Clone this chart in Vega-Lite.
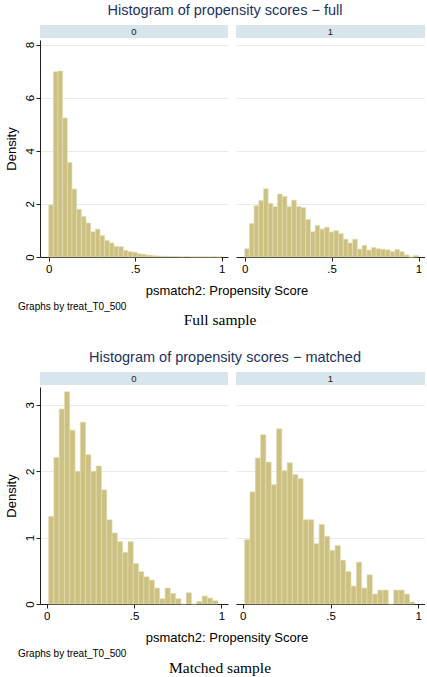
{
  "$schema": "https://vega.github.io/schema/vega-lite/v6.json",
  "padding": {"left": 5, "top": 2, "right": 0, "bottom": 0},
  "autosize": {"type": "pad"},
  "background": "white",
  "config": {
    "font": "Liberation Sans",
    "view": {"stroke": null},
    "title": {"fontWeight": "normal", "color": "#000", "anchor": "middle"},
    "axis": {
      "domainColor": "#222",
      "tickColor": "#222",
      "labelColor": "#000",
      "titleColor": "#000",
      "gridColor": "#e4ecf0",
      "labelFont": "Liberation Sans",
      "titleFont": "Liberation Sans",
      "titleFontWeight": "normal"
    }
  },
  "datasets": {
    "full0": [
      {"bin_start": 0.000, "bin_end": 0.027, "density": 1.96},
      {"bin_start": 0.027, "bin_end": 0.054, "density": 6.97},
      {"bin_start": 0.054, "bin_end": 0.081, "density": 7.00},
      {"bin_start": 0.081, "bin_end": 0.108, "density": 5.23},
      {"bin_start": 0.108, "bin_end": 0.135, "density": 3.56},
      {"bin_start": 0.135, "bin_end": 0.162, "density": 2.56},
      {"bin_start": 0.162, "bin_end": 0.189, "density": 1.80},
      {"bin_start": 0.189, "bin_end": 0.216, "density": 1.53},
      {"bin_start": 0.216, "bin_end": 0.243, "density": 1.28},
      {"bin_start": 0.243, "bin_end": 0.270, "density": 0.95},
      {"bin_start": 0.270, "bin_end": 0.297, "density": 1.05},
      {"bin_start": 0.297, "bin_end": 0.324, "density": 0.81},
      {"bin_start": 0.324, "bin_end": 0.351, "density": 0.62},
      {"bin_start": 0.351, "bin_end": 0.378, "density": 0.53},
      {"bin_start": 0.378, "bin_end": 0.405, "density": 0.40},
      {"bin_start": 0.405, "bin_end": 0.432, "density": 0.39},
      {"bin_start": 0.432, "bin_end": 0.459, "density": 0.25},
      {"bin_start": 0.459, "bin_end": 0.486, "density": 0.20},
      {"bin_start": 0.486, "bin_end": 0.513, "density": 0.18},
      {"bin_start": 0.513, "bin_end": 0.540, "density": 0.12},
      {"bin_start": 0.540, "bin_end": 0.567, "density": 0.10},
      {"bin_start": 0.567, "bin_end": 0.594, "density": 0.07},
      {"bin_start": 0.594, "bin_end": 0.621, "density": 0.05},
      {"bin_start": 0.621, "bin_end": 0.648, "density": 0.04},
      {"bin_start": 0.648, "bin_end": 0.675, "density": 0.03},
      {"bin_start": 0.675, "bin_end": 0.702, "density": 0.03},
      {"bin_start": 0.702, "bin_end": 0.729, "density": 0.02},
      {"bin_start": 0.729, "bin_end": 0.756, "density": 0.02},
      {"bin_start": 0.756, "bin_end": 0.783, "density": 0.01},
      {"bin_start": 0.783, "bin_end": 0.810, "density": 0.02},
      {"bin_start": 0.810, "bin_end": 0.837, "density": 0.01},
      {"bin_start": 0.837, "bin_end": 0.864, "density": 0.01},
      {"bin_start": 0.864, "bin_end": 0.891, "density": 0.01},
      {"bin_start": 0.891, "bin_end": 0.918, "density": 0.01},
      {"bin_start": 0.918, "bin_end": 0.945, "density": 0.005},
      {"bin_start": 0.945, "bin_end": 0.972, "density": 0.01},
      {"bin_start": 0.972, "bin_end": 0.999, "density": 0.005}
    ],
    "full1": [
      {"bin_start": 0.000, "bin_end": 0.027, "density": 0.31},
      {"bin_start": 0.027, "bin_end": 0.054, "density": 1.26},
      {"bin_start": 0.054, "bin_end": 0.081, "density": 1.93},
      {"bin_start": 0.081, "bin_end": 0.108, "density": 2.13},
      {"bin_start": 0.108, "bin_end": 0.135, "density": 2.57},
      {"bin_start": 0.135, "bin_end": 0.162, "density": 2.02},
      {"bin_start": 0.162, "bin_end": 0.189, "density": 1.90},
      {"bin_start": 0.189, "bin_end": 0.216, "density": 2.37},
      {"bin_start": 0.216, "bin_end": 0.243, "density": 2.28},
      {"bin_start": 0.243, "bin_end": 0.270, "density": 1.90},
      {"bin_start": 0.270, "bin_end": 0.297, "density": 2.14},
      {"bin_start": 0.297, "bin_end": 0.324, "density": 1.90},
      {"bin_start": 0.324, "bin_end": 0.351, "density": 1.86},
      {"bin_start": 0.351, "bin_end": 0.378, "density": 1.41},
      {"bin_start": 0.378, "bin_end": 0.405, "density": 0.95},
      {"bin_start": 0.405, "bin_end": 0.432, "density": 1.19},
      {"bin_start": 0.432, "bin_end": 0.459, "density": 1.05},
      {"bin_start": 0.459, "bin_end": 0.486, "density": 1.12},
      {"bin_start": 0.486, "bin_end": 0.513, "density": 0.94},
      {"bin_start": 0.513, "bin_end": 0.540, "density": 0.99},
      {"bin_start": 0.540, "bin_end": 0.567, "density": 0.88},
      {"bin_start": 0.567, "bin_end": 0.594, "density": 0.67},
      {"bin_start": 0.594, "bin_end": 0.621, "density": 0.53},
      {"bin_start": 0.621, "bin_end": 0.648, "density": 0.67},
      {"bin_start": 0.648, "bin_end": 0.675, "density": 0.30},
      {"bin_start": 0.675, "bin_end": 0.702, "density": 0.44},
      {"bin_start": 0.702, "bin_end": 0.729, "density": 0.26},
      {"bin_start": 0.729, "bin_end": 0.756, "density": 0.36},
      {"bin_start": 0.756, "bin_end": 0.783, "density": 0.31},
      {"bin_start": 0.783, "bin_end": 0.810, "density": 0.29},
      {"bin_start": 0.810, "bin_end": 0.837, "density": 0.27},
      {"bin_start": 0.837, "bin_end": 0.864, "density": 0.21},
      {"bin_start": 0.864, "bin_end": 0.891, "density": 0.28},
      {"bin_start": 0.891, "bin_end": 0.918, "density": 0.20},
      {"bin_start": 0.918, "bin_end": 0.945, "density": 0.08},
      {"bin_start": 0.945, "bin_end": 0.972, "density": 0.0},
      {"bin_start": 0.972, "bin_end": 0.999, "density": 0.06}
    ],
    "matched0": [
      {"bin_start": 0.0110, "bin_end": 0.0413, "density": 1.32},
      {"bin_start": 0.0413, "bin_end": 0.0716, "density": 2.21},
      {"bin_start": 0.0716, "bin_end": 0.1019, "density": 2.94},
      {"bin_start": 0.1019, "bin_end": 0.1322, "density": 3.20},
      {"bin_start": 0.1322, "bin_end": 0.1625, "density": 2.62},
      {"bin_start": 0.1625, "bin_end": 0.1928, "density": 2.00},
      {"bin_start": 0.1928, "bin_end": 0.2231, "density": 2.74},
      {"bin_start": 0.2231, "bin_end": 0.2534, "density": 2.25},
      {"bin_start": 0.2534, "bin_end": 0.2837, "density": 2.00},
      {"bin_start": 0.2837, "bin_end": 0.3140, "density": 2.08},
      {"bin_start": 0.3140, "bin_end": 0.3443, "density": 1.72},
      {"bin_start": 0.3443, "bin_end": 0.3746, "density": 1.27},
      {"bin_start": 0.3746, "bin_end": 0.4049, "density": 1.07},
      {"bin_start": 0.4049, "bin_end": 0.4352, "density": 0.94},
      {"bin_start": 0.4352, "bin_end": 0.4655, "density": 0.78},
      {"bin_start": 0.4655, "bin_end": 0.4958, "density": 0.94},
      {"bin_start": 0.4958, "bin_end": 0.5261, "density": 0.61},
      {"bin_start": 0.5261, "bin_end": 0.5564, "density": 0.49},
      {"bin_start": 0.5564, "bin_end": 0.5867, "density": 0.41},
      {"bin_start": 0.5867, "bin_end": 0.6170, "density": 0.36},
      {"bin_start": 0.6170, "bin_end": 0.6473, "density": 0.24},
      {"bin_start": 0.6473, "bin_end": 0.6776, "density": 0.08},
      {"bin_start": 0.6776, "bin_end": 0.7079, "density": 0.24},
      {"bin_start": 0.7079, "bin_end": 0.7382, "density": 0.16},
      {"bin_start": 0.7382, "bin_end": 0.7685, "density": 0.08},
      {"bin_start": 0.7685, "bin_end": 0.7988, "density": 0.0},
      {"bin_start": 0.7988, "bin_end": 0.8291, "density": 0.17},
      {"bin_start": 0.8291, "bin_end": 0.8594, "density": 0.0},
      {"bin_start": 0.8594, "bin_end": 0.8897, "density": 0.04},
      {"bin_start": 0.8897, "bin_end": 0.9200, "density": 0.12},
      {"bin_start": 0.9200, "bin_end": 0.9503, "density": 0.09},
      {"bin_start": 0.9503, "bin_end": 0.9806, "density": 0.05}
    ],
    "matched1": [
      {"bin_start": 0.0110, "bin_end": 0.0413, "density": 0.97},
      {"bin_start": 0.0413, "bin_end": 0.0716, "density": 1.69},
      {"bin_start": 0.0716, "bin_end": 0.1019, "density": 2.20},
      {"bin_start": 0.1019, "bin_end": 0.1322, "density": 2.55},
      {"bin_start": 0.1322, "bin_end": 0.1625, "density": 2.14},
      {"bin_start": 0.1625, "bin_end": 0.1928, "density": 1.80},
      {"bin_start": 0.1928, "bin_end": 0.2231, "density": 2.64},
      {"bin_start": 0.2231, "bin_end": 0.2534, "density": 2.01},
      {"bin_start": 0.2534, "bin_end": 0.2837, "density": 2.13},
      {"bin_start": 0.2837, "bin_end": 0.3140, "density": 1.95},
      {"bin_start": 0.3140, "bin_end": 0.3443, "density": 1.89},
      {"bin_start": 0.3443, "bin_end": 0.3746, "density": 1.27},
      {"bin_start": 0.3746, "bin_end": 0.4049, "density": 1.27},
      {"bin_start": 0.4049, "bin_end": 0.4352, "density": 0.91},
      {"bin_start": 0.4352, "bin_end": 0.4655, "density": 1.20},
      {"bin_start": 0.4655, "bin_end": 0.4958, "density": 1.02},
      {"bin_start": 0.4958, "bin_end": 0.5261, "density": 0.81},
      {"bin_start": 0.5261, "bin_end": 0.5564, "density": 0.88},
      {"bin_start": 0.5564, "bin_end": 0.5867, "density": 0.66},
      {"bin_start": 0.5867, "bin_end": 0.6170, "density": 0.49},
      {"bin_start": 0.6170, "bin_end": 0.6473, "density": 0.27},
      {"bin_start": 0.6473, "bin_end": 0.6776, "density": 0.63},
      {"bin_start": 0.6776, "bin_end": 0.7079, "density": 0.24},
      {"bin_start": 0.7079, "bin_end": 0.7382, "density": 0.44},
      {"bin_start": 0.7382, "bin_end": 0.7685, "density": 0.15},
      {"bin_start": 0.7685, "bin_end": 0.7988, "density": 0.21},
      {"bin_start": 0.7988, "bin_end": 0.8291, "density": 0.21},
      {"bin_start": 0.8291, "bin_end": 0.8594, "density": 0.0},
      {"bin_start": 0.8594, "bin_end": 0.8897, "density": 0.21},
      {"bin_start": 0.8897, "bin_end": 0.9200, "density": 0.21},
      {"bin_start": 0.9200, "bin_end": 0.9503, "density": 0.15},
      {"bin_start": 0.9503, "bin_end": 0.9806, "density": 0.03}
    ],
    "strip0": [{"treat": "0"}],
    "strip1": [{"treat": "1"}]
  },
  "spacing": 21,
  "vconcat": [
    {
      "title": {"text": "Full sample", "orient": "bottom", "font": "Liberation Serif", "fontSize": 15.5, "offset": 1, "anchor": "middle", "dx": 5},
      "vconcat": [
        {
          "title": {"text": "Graphs by treat_T0_500", "orient": "bottom", "anchor": "start", "fontSize": 10, "offset": 4, "dx": 13},
          "vconcat": [
            {
              "title": {"text": "Histogram of propensity scores − full", "color": "#1c3263", "fontSize": 14.5, "offset": 7, "anchor": "middle", "dx": 10},
              "spacing": 2,
              "vconcat": [
                {
                  "spacing": 8,
                  "hconcat": [
                    {"width": 188, "height": 13, "view": {"fill": "#d8e5eb", "stroke": null}, "data": {"name": "strip0"}, "mark": {"type": "text", "fontSize": 9.5, "color": "#222", "baseline": "middle"}, "encoding": {"text": {"field": "treat"}}},
                    {"width": 189, "height": 13, "view": {"fill": "#d8e5eb", "stroke": null}, "data": {"name": "strip1"}, "mark": {"type": "text", "fontSize": 9.5, "color": "#222", "baseline": "middle"}, "encoding": {"text": {"field": "treat"}}}
                  ]
                },
                {
                  "title": {"text": "psmatch2: Propensity Score", "orient": "bottom", "fontSize": 13, "offset": 10, "anchor": "middle", "dx": 12},
                  "spacing": 8,
                  "hconcat": [
                    {
                      "width": 188, "height": 217,
                      "data": {"name": "full0"},
                      "mark": {"type": "bar", "fill": "#ccc182", "stroke": "#e6dfb4", "strokeWidth": 0.6},
                      "encoding": {
                        "x": {"field": "bin_start", "type": "quantitative", "scale": {"domain": [-0.05, 1.037], "nice": false, "zero": false},
                              "axis": {"values": [0, 0.5, 1], "labelExpr": "datum.value == 0.5 ? '.5' : (datum.value == 0 ? '0' : '1')", "title": null, "grid": false, "tickSize": 4, "labelPadding": 2, "labelFontSize": 11.5}},
                        "x2": {"field": "bin_end"},
                        "y": {"field": "density", "type": "quantitative", "scale": {"domain": [0, 8.17], "nice": false},
                              "axis": {"values": [0, 2, 4, 6, 8], "title": "Density", "titleFontSize": 13, "titlePadding": 6, "labelAngle": -90, "labelAlign": "center", "labelBaseline": "bottom", "labelPadding": 1, "tickSize": 4, "labelFontSize": 11.5, "grid": true}},
                        "y2": {"datum": 0}
                      }
                    },
                    {
                      "width": 189, "height": 217,
                      "data": {"name": "full1"},
                      "mark": {"type": "bar", "fill": "#ccc182", "stroke": "#e6dfb4", "strokeWidth": 0.6},
                      "encoding": {
                        "x": {"field": "bin_start", "type": "quantitative", "scale": {"domain": [-0.05, 1.037], "nice": false, "zero": false},
                              "axis": {"values": [0, 0.5, 1], "labelExpr": "datum.value == 0.5 ? '.5' : (datum.value == 0 ? '0' : '1')", "title": null, "grid": false, "tickSize": 4, "labelPadding": 2, "labelFontSize": 11.5}},
                        "x2": {"field": "bin_end"},
                        "y": {"field": "density", "type": "quantitative", "scale": {"domain": [0, 8.17], "nice": false},
                              "axis": {"values": [0, 2, 4, 6, 8], "title": null, "labels": false, "ticks": false, "domain": false, "grid": true}},
                        "y2": {"datum": 0}
                      }
                    }
                  ]
                }
              ]
            }
          ]
        }
      ]
    },
    {
      "title": {"text": "Matched sample", "orient": "bottom", "font": "Liberation Serif", "fontSize": 15.5, "offset": 2, "anchor": "middle", "dx": 5},
      "vconcat": [
        {
          "title": {"text": "Graphs by treat_T0_500", "orient": "bottom", "anchor": "start", "fontSize": 10, "offset": 4, "dx": 13},
          "vconcat": [
            {
              "title": {"text": "Histogram of propensity scores − matched", "color": "#1c3263", "fontSize": 14.5, "offset": 7, "anchor": "middle", "dx": 10},
              "spacing": 2,
              "vconcat": [
                {
                  "spacing": 8,
                  "hconcat": [
                    {"width": 188, "height": 13, "view": {"fill": "#d8e5eb", "stroke": null}, "data": {"name": "strip0"}, "mark": {"type": "text", "fontSize": 9.5, "color": "#222", "baseline": "middle"}, "encoding": {"text": {"field": "treat"}}},
                    {"width": 189, "height": 13, "view": {"fill": "#d8e5eb", "stroke": null}, "data": {"name": "strip1"}, "mark": {"type": "text", "fontSize": 9.5, "color": "#222", "baseline": "middle"}, "encoding": {"text": {"field": "treat"}}}
                  ]
                },
                {
                  "title": {"text": "psmatch2: Propensity Score", "orient": "bottom", "fontSize": 13, "offset": 10, "anchor": "middle", "dx": 12},
                  "spacing": 8,
                  "hconcat": [
                    {
                      "width": 188, "height": 217,
                      "data": {"name": "matched0"},
                      "mark": {"type": "bar", "fill": "#ccc182", "stroke": "#e6dfb4", "strokeWidth": 0.6},
                      "encoding": {
                        "x": {"field": "bin_start", "type": "quantitative", "scale": {"domain": [-0.038, 1.038], "nice": false, "zero": false},
                              "axis": {"values": [0, 0.5, 1], "labelExpr": "datum.value == 0.5 ? '.5' : (datum.value == 0 ? '0' : '1')", "title": null, "grid": false, "tickSize": 4, "labelPadding": 2, "labelFontSize": 11.5}},
                        "x2": {"field": "bin_end"},
                        "y": {"field": "density", "type": "quantitative", "scale": {"domain": [0, 3.27], "nice": false},
                              "axis": {"values": [0, 1, 2, 3], "title": "Density", "titleFontSize": 13, "titlePadding": 6, "labelAngle": -90, "labelAlign": "center", "labelBaseline": "bottom", "labelPadding": 1, "tickSize": 4, "labelFontSize": 11.5, "grid": true}},
                        "y2": {"datum": 0}
                      }
                    },
                    {
                      "width": 189, "height": 217,
                      "data": {"name": "matched1"},
                      "mark": {"type": "bar", "fill": "#ccc182", "stroke": "#e6dfb4", "strokeWidth": 0.6},
                      "encoding": {
                        "x": {"field": "bin_start", "type": "quantitative", "scale": {"domain": [-0.038, 1.038], "nice": false, "zero": false},
                              "axis": {"values": [0, 0.5, 1], "labelExpr": "datum.value == 0.5 ? '.5' : (datum.value == 0 ? '0' : '1')", "title": null, "grid": false, "tickSize": 4, "labelPadding": 2, "labelFontSize": 11.5}},
                        "x2": {"field": "bin_end"},
                        "y": {"field": "density", "type": "quantitative", "scale": {"domain": [0, 3.27], "nice": false},
                              "axis": {"values": [0, 1, 2, 3], "title": null, "labels": false, "ticks": false, "domain": false, "grid": true}},
                        "y2": {"datum": 0}
                      }
                    }
                  ]
                }
              ]
            }
          ]
        }
      ]
    }
  ]
}
